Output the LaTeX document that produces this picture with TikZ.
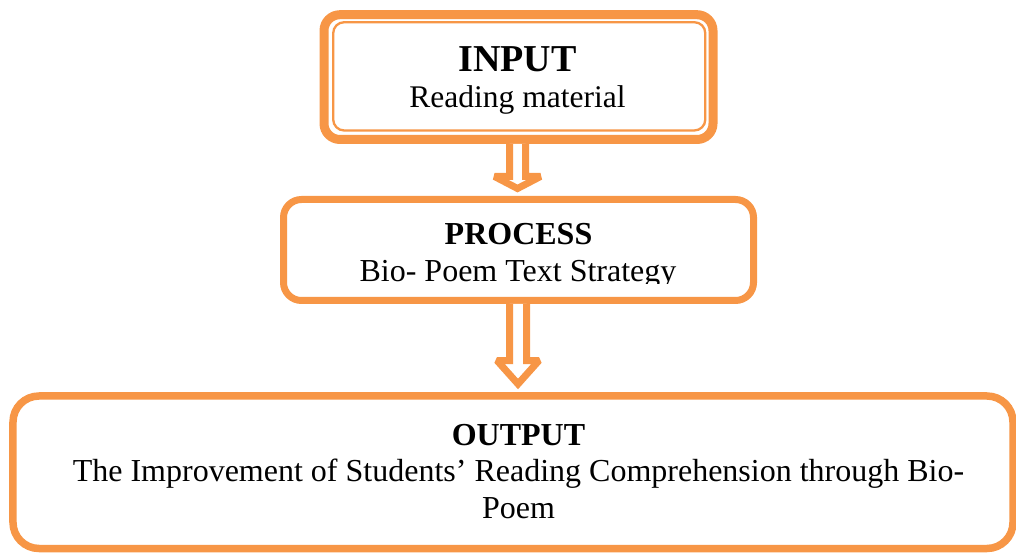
\documentclass[tikz,border=0pt]{standalone}
\usepackage{fontspec}
\setmainfont{Liberation Serif}
\usetikzlibrary{calc}
\definecolor{accent}{HTML}{F79646}
\begin{document}
\begin{tikzpicture}[x=1bp,y=-1bp,
  frame/.style={draw=accent, fill=white, inner sep=0pt},
  label/.style={anchor=base, inner sep=0pt, text=black},
  head/.style={label, font=\fontsize{32bp}{36bp}\selectfont\bfseries},
  body/.style={label, font=\fontsize{32bp}{36bp}\selectfont},
  hollow/.style={draw=accent, fill=white, line width=7bp, line join=miter, miter limit=2}]
\useasboundingbox (0,0) rectangle (1016,553);

% boxes
\node[frame, line width=9bp, rounded corners=16bp,
      minimum width=389bp, minimum height=124.8bp] (in) at (518.5,77.1) {};
\draw[accent, line width=2.3bp, rounded corners=11bp]
  ($(in.north west)+(13.7,12)$) rectangle ($(in.south east)+(-12.2,-13.5)$);
\node[frame, line width=7bp, rounded corners=18bp,
      minimum width=470bp, minimum height=101bp] (pr) at (518.5,250) {};
\node[frame, line width=7.5bp, rounded corners=26bp,
      minimum width=1000bp, minimum height=152.5bp] (out) at (513,472.25) {};

% hollow block arrows
\draw[hollow] ($(in.south)+(-9,0)$) -- ($(in.south)+(-9,32.5)$)
  -- ($(in.south)+(-24,32.5)$) -- ($(in.south)+(-1,44.5)$)
  -- ($(in.south)+(22,32.5)$) -- ($(in.south)+(7,32.5)$)
  -- ($(in.south)+(7,0)$);
\draw[hollow] ($(pr.south)+(-9,0)$) -- ($(pr.south)+(-9,56.5)$)
  -- ($(pr.south)+(-21.5,56.5)$) -- ($(pr.south)+(-0.5,80)$)
  -- ($(pr.south)+(20.5,56.5)$) -- ($(pr.south)+(8,56.5)$)
  -- ($(pr.south)+(8,0)$);

% texts
\node[label, font=\fontsize{38bp}{40bp}\selectfont\bfseries] (inT) at (517.5,72) {INPUT};
\node[label, font=\fontsize{31.5bp}{36bp}\selectfont] (inB) at (517.5,108) {Reading material};

\node[head] (prT) at (518.5,245) {PROCESS};
\begin{scope}
  \clip (290,205) rectangle (748,283.5);
  \node[body] (prB) at (518,281.7) {Bio- Poem Text Strategy};
\end{scope}

\node[head] (outT) at (518.5,445) {OUTPUT};
\node[body] (outB1) at (518.5,481.7) {The Improvement of Students’ Reading Comprehension through Bio-};
\node[body] (outB2) at (518.5,518) {Poem};
\end{tikzpicture}
\end{document}
